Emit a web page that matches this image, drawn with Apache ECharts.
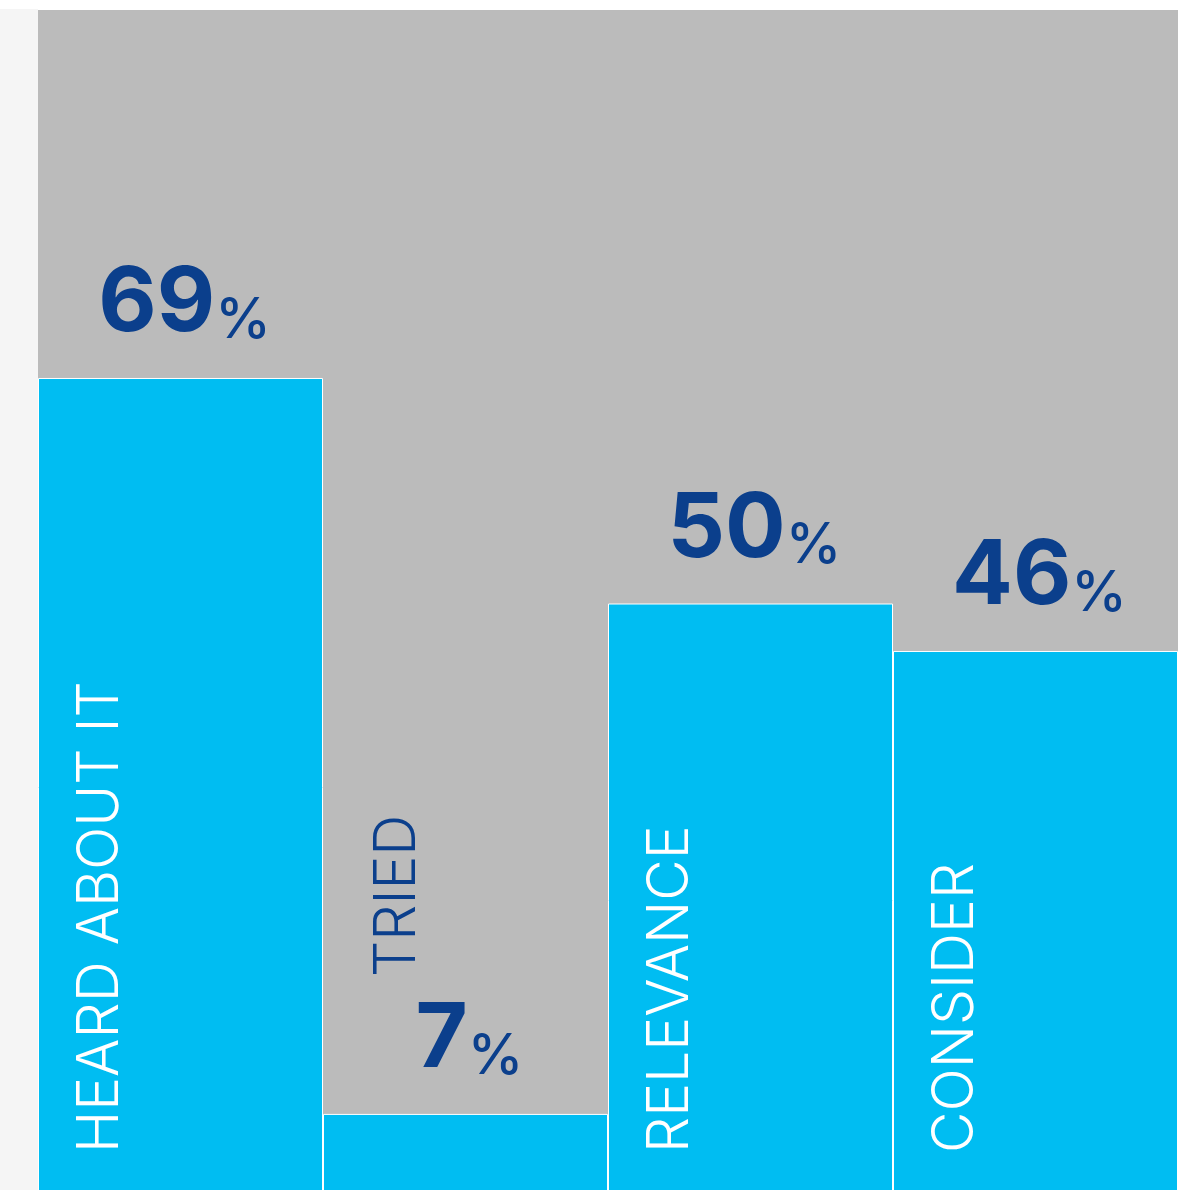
<!DOCTYPE html>
<html>
<head>
<meta charset="utf-8">
<script src="https://cdn.jsdelivr.net/npm/echarts@6/dist/echarts.min.js"></script>
<style>
html,body{margin:0;padding:0;background:#ffffff;overflow:hidden;}
#chart{width:1189px;height:1200px;}
</style>
</head>
<body>
<div id="chart"></div>
<script>
var categories = ['HEARD ABOUT IT', 'TRIED', 'RELEVANCE', 'CONSIDER'];
var values = [69, 7, 50, 46];
var axisMax = 100;

var CYAN = '#00BDF2';
var NAVY = '#0B3F8C';
var GRAY = '#BBBBBB';
var FONT = 'Inter, "Open Sans", sans-serif';

var chart = echarts.init(document.getElementById('chart'), null, {renderer: 'canvas'});

var option = {
  animation: false,
  backgroundColor: '#ffffff',
  graphic: [{
    type: 'rect', left: 0, top: 9, z: -10,
    shape: {width: 38, height: 1200},
    style: {fill: '#F5F5F5'}
  }],
  grid: {
    left: 38, right: 11, top: 10, bottom: 3,
    show: true, backgroundColor: GRAY, borderWidth: 0
  },
  xAxis: {
    type: 'category', data: categories,
    axisLine: {show: false}, axisTick: {show: false}, axisLabel: {show: false},
    splitLine: {show: false}
  },
  yAxis: {
    type: 'value', min: 0, max: axisMax,
    axisLine: {show: false}, axisTick: {show: false}, axisLabel: {show: false},
    splitLine: {show: false}
  },
  series: [{
    type: 'bar',
    data: values,
    barWidth: '100%',
    barCategoryGap: 0,
    itemStyle: {color: CYAN, borderColor: '#ffffff', borderWidth: 1},
    label: {
      show: true,
      position: 'top',
      distance: 29,
      offset: [4, 0],
      formatter: function (p) { return '{n|' + p.value + '}{p|%}'; },
      rich: {
        n: {fontFamily: FONT, fontSize: 90, fontWeight: 700, color: NAVY, lineHeight: 90, verticalAlign: 'bottom'},
        p: {fontFamily: FONT, fontSize: 56, fontWeight: 500, color: NAVY, lineHeight: 64, verticalAlign: 'bottom'}
      }
    }
  }, {
    type: 'custom',
    data: categories.map(function (c, i) { return [i, values[i]]; }),
    z: 5,
    renderItem: function (params, api) {
      var idx = api.value(0);
      var v = api.value(1);
      var bw = api.size([1, 0])[0];
      var base = api.coord([idx, 0]);
      var top = api.coord([idx, v]);
      var left = base[0] - bw / 2;
      var inside = (base[1] - top[1]) > 400;
      var y = inside ? base[1] - 44 : top[1] - 137;
      var x = inside ? left + 63 : left + 75;
      return {
        type: 'text',
        x: x, y: y,
        rotation: Math.PI / 2,
        style: {
          text: categories[idx],
          fill: inside ? '#ffffff' : NAVY,
          fontFamily: FONT,
          fontSize: 57,
          fontWeight: 300,
          align: 'left',
          verticalAlign: 'middle'
        }
      };
    }
  }]
};
chart.setOption(option);
</script>
</body>
</html>
